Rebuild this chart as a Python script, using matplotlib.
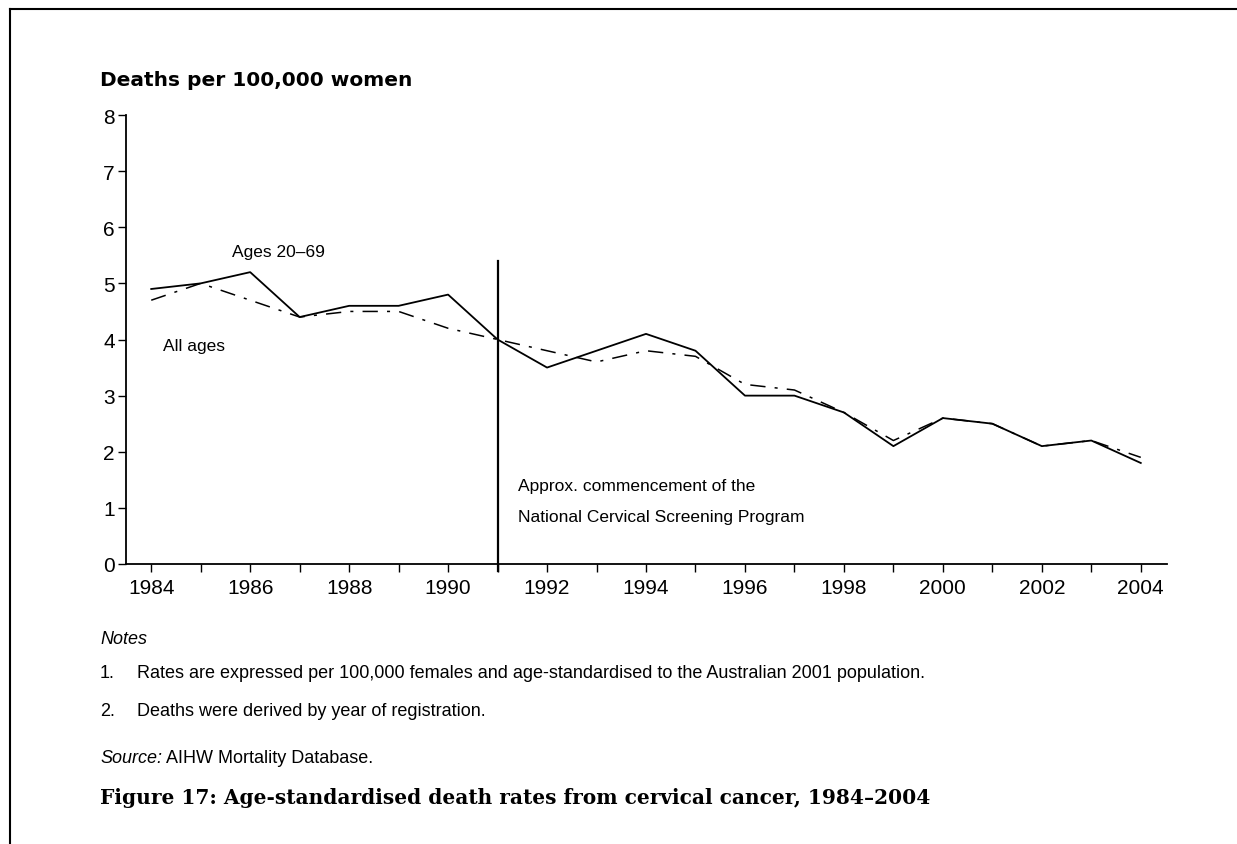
import matplotlib
matplotlib.use("Agg")
import matplotlib.pyplot as plt
from matplotlib.lines import Line2D

plt.rcParams["font.family"] = ["Liberation Sans", "DejaVu Sans"]

years = list(range(1984, 2005))
ages_20_69 = [4.9, 5.0, 5.2, 4.4, 4.6, 4.6, 4.8, 4.0, 3.5, 3.8, 4.1,
              3.8, 3.0, 3.0, 2.7, 2.1, 2.6, 2.5, 2.1, 2.2, 1.8]
all_ages = [4.7, 5.0, 4.7, 4.4, 4.5, 4.5, 4.2, 4.0, 3.8, 3.6, 3.8,
            3.7, 3.2, 3.1, 2.7, 2.2, 2.6, 2.5, 2.1, 2.2, 1.9]
program_year = 1991
program_top = 5.4
year_labels = [str(y) if y % 2 == 0 else "" for y in years]

W, H = 1237, 845
fig = plt.figure(figsize=(W / 100, H / 100), dpi=100)

def px(x, y):
    return x / W, 1 - y / H

# axes box in pixels: left 126, right 1167, top 116, bottom 565
ax = fig.add_axes([126 / W, 1 - 565 / H, (1167 - 126) / W, (565 - 116) / H])
ax.plot(years, ages_20_69, color="black", lw=1.3)
ax.plot(years, all_ages, color="black", lw=1.1, dashes=(10, 6, 2, 6))
ax.plot([program_year, program_year], [-0.12, program_top], color="black", lw=1.6, clip_on=False)

ax.set_xlim(1983.49, 2004.53)
ax.set_ylim(0, 8)
ax.set_xticks(years)
ax.set_xticklabels(year_labels)
ax.set_yticks(range(0, 9))
for s in ["top", "right"]:
    ax.spines[s].set_visible(False)
ax.spines["left"].set_linewidth(1.3)
ax.spines["bottom"].set_linewidth(1.3)
ax.tick_params(direction="out", length=6, width=1, labelsize=15, pad=4)
ax.tick_params(axis="y", pad=2)

note_fs = 12.5
ax.text(1985.64, 5.56, "Ages 20–69", fontsize=note_fs, va="center")
ax.text(1984.24, 3.9, "All ages", fontsize=note_fs, va="center")
ax.text(1991.41, 1.39, "Approx. commencement of the", fontsize=note_fs, va="center")
ax.text(1991.41, 0.84, "National Cervical Screening Program", fontsize=note_fs, va="center")

fig.text(*px(100, 80), "Deaths per 100,000 women", fontsize=14.5, fontweight="bold",
         family=["DejaVu Sans"], va="center")

fs = 13
fig.text(*px(100, 640), "Notes", fontsize=fs, style="italic", va="center")
fig.text(*px(100, 674), "1.", fontsize=fs, va="center")
fig.text(*px(137, 674), "Rates are expressed per 100,000 females and age-standardised to the Australian 2001 population.",
         fontsize=fs, va="center")
fig.text(*px(100, 712), "2.", fontsize=fs, va="center")
fig.text(*px(137, 712), "Deaths were derived by year of registration.", fontsize=fs, va="center")
src = fig.text(*px(100, 763), "Source:", fontsize=fs, style="italic", va="baseline")
ax.annotate("AIHW Mortality Database.", xy=(1, 0), xycoords=src, xytext=(3, 0),
            textcoords="offset points", fontsize=fs, va="bottom", annotation_clip=False)
fig.text(*px(100, 798), "Figure 17: Age-standardised death rates from cervical cancer, 1984–2004",
         fontsize=14.5, fontweight="bold", family=["DejaVu Serif"], va="center")

# page frame on the left and top
fig.add_artist(Line2D([10 / W, 10 / W], [0, 1 - 10 / H], color="black", lw=1.5, transform=fig.transFigure))
fig.add_artist(Line2D([10 / W, 1], [1 - 10 / H, 1 - 10 / H], color="black", lw=1.5, transform=fig.transFigure))

fig.savefig("out.png", dpi=100)
